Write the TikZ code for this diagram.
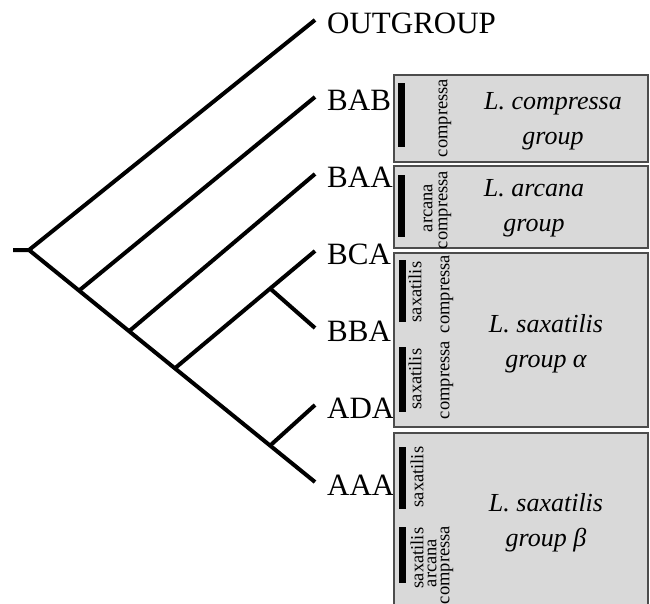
\documentclass[tikz,border=0pt]{standalone}
\usepackage{fontspec}
\setmainfont{Liberation Serif}
\usetikzlibrary{positioning,calc}
\begin{document}
\begin{tikzpicture}[
    x=1pt, y=-1pt,
    branch/.style={line width=4pt},
    taxon/.style={inner sep=0pt, yshift=-3pt, font=\fontsize{31}{31}\selectfont},
    grpbox/.style={draw=black!70, line width=1.2pt, fill=black!15, inner sep=0pt},
    bar/.style={fill=black},
    species/.style={rotate=90, inner sep=0pt, font=\fontsize{18.5}{18.5}\selectfont},
    grpname/.style={align=center, inner sep=0pt, font=\fontsize{26}{35}\selectfont\itshape}
  ]
  \clip (0,0) rectangle (650,604);
  % tree
  \coordinate (stub) at (13,250);
  \coordinate (root) at (29,250);
  \coordinate (tOUT) at (315,20);
  \coordinate (tBAB) at (315,97);
  \coordinate (tBAA) at (315,174);
  \coordinate (tBCA) at (315,251);
  \coordinate (tBBA) at (315,328);
  \coordinate (tADA) at (315,405);
  \coordinate (tAAA) at (315,482);
  \coordinate (n1) at ($(root)!0.175!(tAAA)$);
  \coordinate (n2) at ($(root)!0.35!(tAAA)$);
  \coordinate (n3) at ($(root)!0.51!(tAAA)$);
  \coordinate (n5) at ($(root)!0.843!(tAAA)$);
  \coordinate (n4) at ($(n3)!0.68!(tBCA)$);
  \draw[branch] (stub) -- (root) -- (tAAA);
  \draw[branch] (root) -- (tOUT);
  \draw[branch] (n1) -- (tBAB);
  \draw[branch] (n2) -- (tBAA);
  \draw[branch] (n3) -- (tBCA);
  \draw[branch] (n4) -- (tBBA);
  \draw[branch] (n5) -- (tADA);
  \node[taxon, right=12pt of tOUT] (outgroup) {OUTGROUP};
  \node[taxon, right=12pt of tBAB] (bab) {BAB};
  \node[taxon, right=12pt of tBAA] (baa) {BAA};
  \node[taxon, right=12pt of tBCA] (bca) {BCA};
  \node[taxon, right=12pt of tBBA] (bba) {BBA};
  \node[taxon, right=12pt of tADA] (ada) {ADA};
  \node[taxon, right=12pt of tAAA] (aaa) {AAA};
  % groups
  \node[grpbox, minimum width=254pt, minimum height=87pt] (box1) at (521,118.5) {};
  \node[grpbox, minimum width=254pt, minimum height=82pt] (box2) at (521,207) {};
  \node[grpbox, minimum width=254pt, minimum height=174pt] (box3) at (521,340) {};
  \node[grpbox, minimum width=254pt, minimum height=182pt] (box4) at (521,524) {};
  \fill[bar] (398,83) rectangle (405,147);
  \fill[bar] (398,175) rectangle (405,237);
  \fill[bar] (399,260) rectangle (406,322);
  \fill[bar] (399,347) rectangle (406,412);
  \fill[bar] (399,447) rectangle (406,509);
  \fill[bar] (399,527) rectangle (406,583);
  \node[species] (c1) at (445,118) {compressa};
  \node[species] (a2) at (428,208) {arcana};
  \node[species] (c2) at (445,210) {compressa};
  \node[species] (s3) at (415,292) {saxatilis};
  \node[species] (c3) at (447,294) {compressa};
  \node[species] (s3b) at (415,379) {saxatilis};
  \node[species] (c3b) at (447,380) {compressa};
  \node[species] (s4) at (417,477) {saxatilis};
  \node[species] (s4b) at (417,558) {saxatilis};
  \node[species] (a4b) at (432,563) {arcana};
  \node[species] (c4b) at (447,565) {compressa};
  \node[grpname] (g1) at (553,121) {L. compressa\\group};
  \node[grpname] (g2) at (534,208) {L. arcana\\group};
  \node[grpname] (g3) at (546,344) {L. saxatilis\\group α};
  \node[grpname] (g4) at (546,523) {L. saxatilis\\group β};
\end{tikzpicture}
\end{document}
